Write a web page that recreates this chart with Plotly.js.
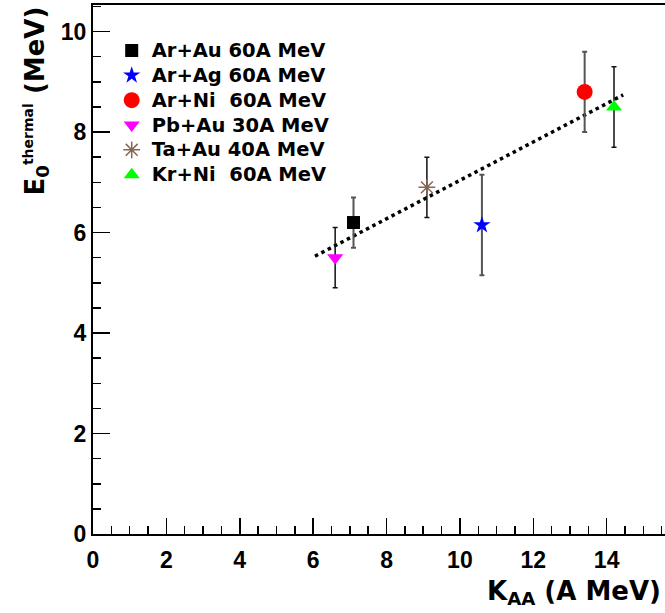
<!DOCTYPE html>
<html>
<head>
<meta charset="utf-8">
<script src="https://cdn.plot.ly/plotly-3.0.1.min.js"></script>
<style>html,body{margin:0;padding:0;background:#fff;}#chart{width:665px;height:613px;}</style>
</head>
<body>
<div id="chart"></div>
<script>
// ---- data ----
const systems = ['Ar+Au 60A MeV', 'Ar+Ag 60A MeV', 'Ar+Ni\u00a0 60A MeV', 'Pb+Au 30A MeV', 'Ta+Au 40A MeV', 'Kr+Ni\u00a0 60A MeV'];
const kaa = [7.1, 10.6, 13.4, 6.6, 9.1, 14.2];          // K_AA (A MeV)
const e0thermal = [6.2, 6.15, 8.8, 5.5, 6.9, 8.5];      // E0 thermal (MeV)
const e0err = [0.5, 1.0, 0.8, 0.6, 0.6, 0.8];
const fitK = [6.05, 14.45];
const fitE = [5.53, 8.74];
const xTicks = [0, 2, 4, 6, 8, 10, 12, 14];
const yTicks = [0, 2, 4, 6, 8, 10];

// ---- styles ----
const styles = [
  {symbol: 'square', color: '#000000', size: 13, lw: 0, ec: '#555555', et: 2},
  {symbol: 'star', color: '#0000ff', size: 13, lw: 0, ec: '#555555', et: 2},
  {symbol: 'circle', color: '#ff0000', size: 16, lw: 0, ec: '#555555', et: 2},
  {symbol: 'triangle-down', color: '#ff00ff', size: 14, lw: 0, ec: '#111111', et: 1.5},
  {symbol: 'asterisk-open', color: '#876656', size: 14, lw: 1.5, ec: '#111111', et: 1.5},
  {symbol: 'triangle-up', color: '#00ff00', size: 14, lw: 0, ec: '#111111', et: 1.5}
];

const traces = [{
  x: fitK, y: fitE, mode: 'lines', showlegend: false, hoverinfo: 'skip',
  line: {color: '#000', width: 3.5, dash: '3.5px,3.7px'}
}];
systems.forEach((name, i) => {
  const s = styles[i];
  traces.push({
    x: [kaa[i]], y: [e0thermal[i]],
    name: '<span style="font-size:19.5px">' + name + '</span>',
    mode: 'markers', type: 'scatter',
    error_y: {type: 'data', array: [e0err[i]], visible: true, color: s.ec, thickness: s.et, width: 2.5},
    marker: {symbol: s.symbol, color: s.color, size: s.size,
             line: {width: s.lw, color: s.color}}
  });
});

const tickFont = {family: 'Liberation Sans, Arial, sans-serif', size: 23, color: '#000', weight: 700};
const titleFont = {family: 'DejaVu Sans, sans-serif', size: 26, color: '#000', weight: 700};

const layout = {
  width: 665, height: 613,
  margin: {l: 93.3, r: 0, t: 5, b: 78.5},
  paper_bgcolor: '#fff', plot_bgcolor: '#fff',
  showlegend: true,
  legend: {
    x: 0.0327, y: 0.947, xanchor: 'left', yanchor: 'top',
    bgcolor: 'rgba(0,0,0,0)', borderwidth: 0, tracegroupgap: 0,
    font: {family: 'DejaVu Sans, sans-serif', size: 16.8, color: '#000', weight: 700}
  },
  xaxis: {
    range: [0, 15.59], tickvals: xTicks, ticktext: xTicks.map(String),
    ticks: 'inside', ticklen: 16, tickwidth: 1.5, tickcolor: '#000',
    minor: {dtick: 0.5, ticks: 'inside', ticklen: 8, tickwidth: 1.5, tickcolor: '#000'},
    showline: true, linewidth: 2, linecolor: '#000', mirror: true,
    showgrid: false, zeroline: false, tickfont: tickFont, ticklabelstandoff: 4, fixedrange: true
  },
  yaxis: {
    range: [0, 10.53], tickvals: yTicks, ticktext: yTicks.map(String),
    ticks: 'inside', ticklen: 17, tickwidth: 1.5, tickcolor: '#000',
    minor: {dtick: 0.5, ticks: 'inside', ticklen: 8, tickwidth: 1.5, tickcolor: '#000'},
    showline: true, linewidth: 2, linecolor: '#000', mirror: false,
    showgrid: false, zeroline: false, tickfont: tickFont, fixedrange: true
  },
  annotations: [
    {
      xref: 'paper', yref: 'paper', x: 0, y: 1, xshift: -57, yshift: 0,
      xanchor: 'center', yanchor: 'top', textangle: -90, showarrow: false,
      text: 'E<sub>0</sub><sup><span style="font-size:14px">thermal</span></sup> (MeV)',
      font: titleFont
    },
    {
      xref: 'paper', yref: 'paper', x: 1, y: 0, xshift: -2, yshift: -40,
      xanchor: 'right', yanchor: 'top', showarrow: false,
      text: 'K<sub>AA</sub> (A MeV)', font: titleFont
    }
  ]
};

Plotly.newPlot('chart', traces, layout, {staticPlot: true, displayModeBar: false});
</script>
</body>
</html>
